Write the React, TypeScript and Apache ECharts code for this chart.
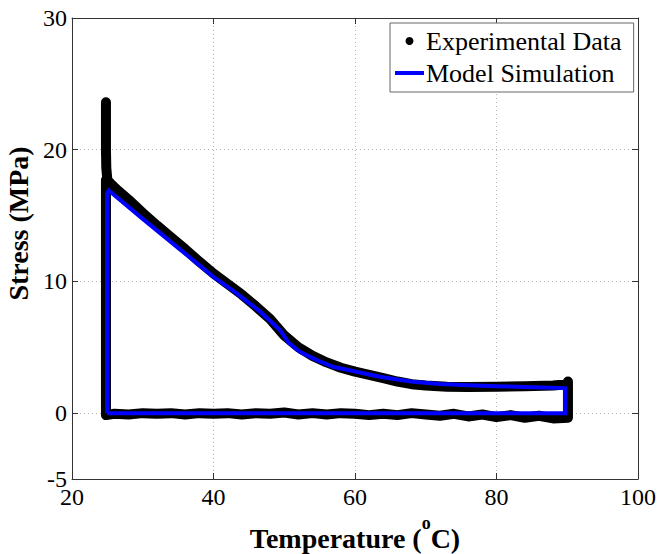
import React, { useEffect, useRef } from "react";
import * as echarts from "echarts";

// Axis ticks
const xTickValues = [20, 40, 60, 80, 100];
const yTickValues = [-5, 0, 10, 20, 30];

// Experimental data (loop traced as a thick band)
const expTemp = [
  24.8, 24.8, 24.8, 24.85, 25.0, 25.5, 26.5, 28, 30, 32, 34, 36, 38, 40, 42, 44, 46, 48, 50, 52, 54, 56, 58, 60,
  62, 64, 66, 68, 70, 73, 76, 80, 84, 88, 90.1, 90.1, 90.1, 90.1,
  88, 86, 84, 82, 80, 78, 76, 74, 72, 70, 68, 66, 64, 62, 60, 58, 56, 54, 52, 50, 48, 46, 44, 42, 40, 38, 36,
  34, 32, 30, 28, 26, 24.8, 24.8, 24.8, 24.8,
];
const expStress = [
  23.6, 22.0, 20.0, 18.6, 17.7, 17.4, 16.9, 16.2, 15.2, 14.25, 13.35, 12.45, 11.5, 10.6, 9.8, 9.0, 8.1, 7.15, 5.9, 5.0, 4.35, 3.85, 3.45, 3.15,
  2.9, 2.65, 2.4, 2.2, 2.1, 2.0, 1.98, 2.0, 2.05, 2.1, 2.2, 2.4, 1.0, -0.35,
  -0.4, -0.2, -0.35, -0.15, -0.3, -0.1, -0.25, -0.05, -0.2, -0.1, 0.0, -0.15, -0.05, -0.15, -0.05, 0.0, -0.1, 0.0, -0.1, 0.05, -0.05, 0.0, -0.1, 0.0, -0.05, 0.0, -0.1,
  0.0, -0.05, 0.0, -0.1, -0.05, -0.15, 6.0, 12.0, 17.7,
];

// Model simulation
const modelTemp = [
  24.95, 24.95, 25.2, 30, 35, 40, 43, 46.5, 49.4, 50.6, 52.2, 54.6, 56.9, 60.2, 63.5, 66, 68.2, 72, 76, 80, 85, 89.7, 89.7, 24.95,
];
const modelStress = [
  0.0, 16.7, 16.9, 14.75, 12.55, 10.35, 9.2, 7.75, 6.3, 5.35, 4.66, 4.03, 3.52, 3.14, 2.76, 2.55, 2.38, 2.22, 2.12, 2.05, 1.96, 1.9, 0.0, 0.0,
];

const FONT = "Liberation Serif";
const AXIS_COLOR = "#333";
const GRID_COLOR = "#b4b4b4";

export default function App() {
  const ref = useRef<HTMLDivElement>(null);

  useEffect(() => {
    if (!ref.current) return;
    const chart = echarts.init(ref.current, undefined, { renderer: "svg" });

    const expData = expTemp.map((t, i) => [t, expStress[i]]);
    const modelData = modelTemp.map((t, i) => [t, modelStress[i]]);

    const commonTick = { inside: true, length: 6, lineStyle: { color: AXIS_COLOR, width: 1 } };
    const commonLine = { show: true, onZero: false, lineStyle: { color: AXIS_COLOR, width: 1 } };

    chart.setOption({
      animation: false,
      backgroundColor: "#fff",
      textStyle: { fontFamily: FONT },
      grid: { left: 72, right: 21, top: 18, bottom: 75, containLabel: false, outerBoundsMode: "none" },
      legend: {
        orient: "vertical",
        left: 390,
        top: 23,
        padding: [5, 12, 6, 5],
        itemGap: 6,
        itemWidth: 29,
        itemHeight: 8,
        borderColor: "#666",
        borderWidth: 1,
        borderRadius: 0,
        backgroundColor: "#fff",
        selectedMode: false,
        z: 10,
        textStyle: { fontFamily: FONT, fontSize: 26, color: "#000", padding: [0, 0, 0, -3] },
        data: [
          { name: "Experimental Data", icon: "circle", itemStyle: { color: "#000" } },
          { name: "Model Simulation", icon: "path://M0,0h29v4h-29z", itemStyle: { color: "#0000ff" } },
        ],
      },
      xAxis: [
        {
          type: "value",
          min: xTickValues[0],
          max: xTickValues[xTickValues.length - 1],
          interval: 20,
          position: "bottom",
          axisLine: commonLine,
          axisTick: commonTick,
          axisLabel: { margin: 6, fontFamily: FONT, fontSize: 24, color: "#000" },
          splitLine: { show: true, lineStyle: { color: GRID_COLOR, type: [1, 3], width: 1 } },
          name: "Temperature ({sup|o}C)",
          nameLocation: "middle",
          nameGap: 44,
          nameTextStyle: {
            fontFamily: FONT,
            fontSize: 28,
            fontWeight: "bold",
            color: "#000",
            lineHeight: 30,
            rich: {
              sup: {
                fontFamily: FONT,
                fontSize: 18,
                fontWeight: "bold",
                color: "#000",
                lineHeight: 30,
                padding: [0, 0, 30, 0],
              },
            },
          },
        },
        {
          type: "value",
          min: xTickValues[0],
          max: xTickValues[xTickValues.length - 1],
          interval: 20,
          position: "top",
          axisLine: commonLine,
          axisTick: commonTick,
          axisLabel: { show: false },
          splitLine: { show: false },
        },
      ],
      yAxis: [
        {
          type: "value",
          min: -5,
          max: 30,
          interval: 5,
          position: "left",
          axisLine: commonLine,
          axisTick: { ...commonTick, customValues: yTickValues },
          axisLabel: { margin: 5, fontFamily: FONT, fontSize: 24, color: "#000", customValues: yTickValues },
          splitLine: { show: true, lineStyle: { color: GRID_COLOR, type: [1, 3], width: 1 } },
          name: "Stress (MPa)",
          nameLocation: "middle",
          nameGap: 35,
          nameTextStyle: {
            fontFamily: FONT,
            fontSize: 28,
            fontWeight: "bold",
            color: "#000",
            padding: [0, 0, 0, 50],
          },
        },
        {
          type: "value",
          min: -5,
          max: 30,
          interval: 5,
          position: "right",
          axisLine: commonLine,
          axisTick: { ...commonTick, customValues: yTickValues },
          axisLabel: { show: false, customValues: yTickValues },
          splitLine: { show: false },
        },
      ],
      series: [
        {
          name: "Experimental Data",
          type: "line",
          xAxisIndex: 0,
          yAxisIndex: 0,
          data: expData,
          symbol: "none",
          color: "#000",
          lineStyle: { color: "#000", width: 10, cap: "round", join: "round" },
          z: 2,
        },
        {
          name: "Model Simulation",
          type: "line",
          xAxisIndex: 0,
          yAxisIndex: 0,
          data: modelData,
          symbol: "none",
          color: "#0000ff",
          lineStyle: { color: "#0000ff", width: 4, join: "miter" },
          z: 3,
        },
      ],
    });

    return () => chart.dispose();
  }, []);

  return (
    <div
      ref={ref}
      style={{ position: "fixed", left: 0, top: 0, width: 659, height: 554, background: "#fff" }}
    />
  );
}
